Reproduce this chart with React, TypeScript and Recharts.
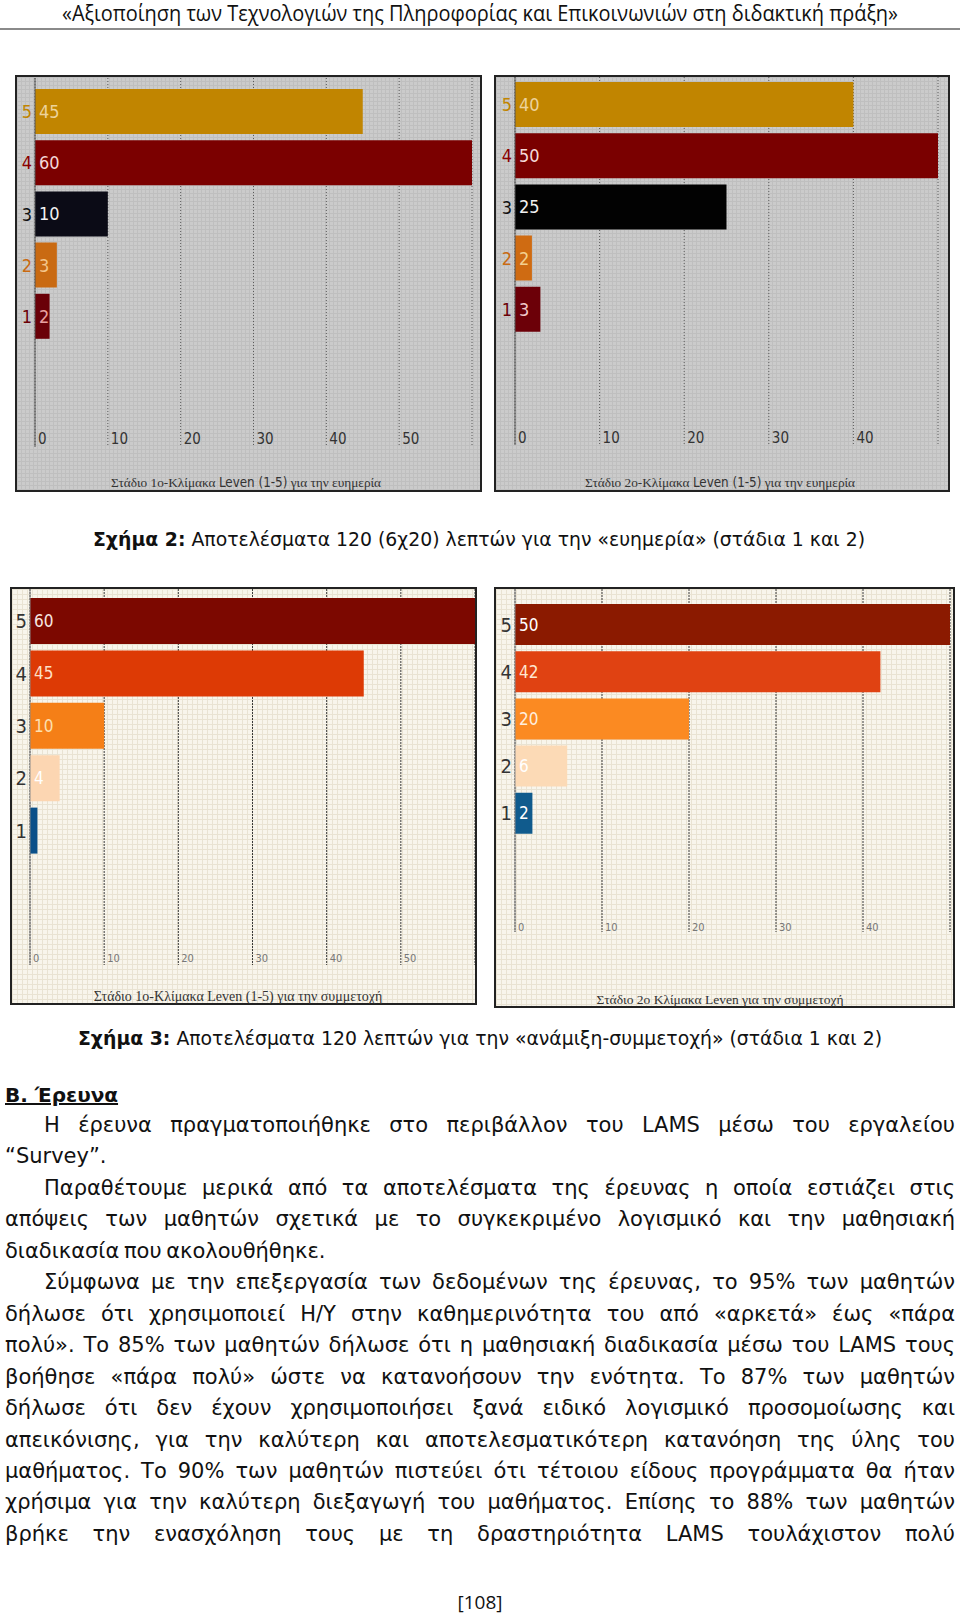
import React from "react";
import { BarChart, Bar, XAxis, YAxis, CartesianGrid, Cell, LabelList } from "recharts";

// Leven scale levels, top to bottom
const levels = ["5", "4", "3", "2", "1"];

// Σχήμα 2 - ευημερία
const wellbeingStage1 = [45, 60, 10, 3, 2];
const wellbeingStage2 = [40, 50, 25, 2, 3];
// Σχήμα 3 - ανάμιξη-συμμετοχή
const participationStage1 = [60, 45, 10, 4, 1];
const participationStage2 = [50, 42, 20, 6, 2];

const ticks50 = [0, 10, 20, 30, 40, 50];
const ticks40 = [0, 10, 20, 30, 40];

const captions = [
  ["Στάδιο 1ο-Κλίμακα ", "Leven (1-5)", " για την ευημερία"],
  ["Στάδιο 2ο-Κλίμακα ", "Leven (1-5)", " για την ευημερία"],
  ["Στάδιο 1ο-Κλίμακα Leven (1-5) για την συμμετοχή"],
  ["Στάδιο 2ο Κλίμακα Leven για την συμμετοχή"],
];

const bodyLines = [
  "Η έρευνα πραγματοποιήθηκε στο περιβάλλον του LAMS μέσω του εργαλείου",
  "“Survey”.",
  "Παραθέτουμε μερικά από τα αποτελέσματα της έρευνας η οποία εστιάζει στις",
  "απόψεις των μαθητών σχετικά με το συγκεκριμένο λογισμικό και την μαθησιακή",
  "διαδικασία που ακολουθήθηκε.",
  "Σύμφωνα με την επεξεργασία των δεδομένων της έρευνας, το 95% των μαθητών",
  "δήλωσε ότι χρησιμοποιεί Η/Υ στην καθημερινότητα του από «αρκετά» έως «πάρα",
  "πολύ». Το 85% των μαθητών δήλωσε ότι η μαθησιακή διαδικασία μέσω του LAMS τους",
  "βοήθησε «πάρα πολύ» ώστε να κατανοήσουν την ενότητα. Το 87% των μαθητών",
  "δήλωσε ότι δεν έχουν χρησιμοποιήσει ξανά ειδικό λογισμικό προσομοίωσης και",
  "απεικόνισης, για την καλύτερη και αποτελεσματικότερη κατανόηση της ύλης του",
  "μαθήματος. Το 90% των μαθητών πιστεύει ότι τέτοιου είδους προγράμματα θα ήταν",
  "χρήσιμα για την καλύτερη διεξαγωγή του μαθήματος. Επίσης το 88% των μαθητών",
  "βρήκε την ενασχόληση τους με τη δραστηριότητα LAMS τουλάχιστον πολύ",
];
const indented = [0, 2, 5];
const lastLines = [1, 4];

// colours
const warmBars = ["#c18500", "#7b0000", "#0b0b16", "#c96a12", "#6a0008"];
const warmBars2 = ["#c18500", "#7a0000", "#020202", "#cf6b12", "#6c0008"];
const warmTicks = ["#c18500", "#8a0000", "#111111", "#c96a12", "#6a0008"];
const warmLabels = ["#edd39c", "#f4d8d8", "#f2f2f2", "#f3c68c", "#e8a0a0"];
const warmLabels2 = ["#edd39c", "#f5dada", "#f0f0f0", "#f3d090", "#f0c8c8"];
const hotBars = ["#7c0800", "#dd3a05", "#f57f17", "#fcd6b2", "#0b5089"];
const hotBars2 = ["#8b1a00", "#e04212", "#fb8a22", "#fcdab6", "#105b8d"];
const hotLabels = ["#f8e6e0", "#fde0c8", "#fde0b0", "#ffffff", "transparent"];
const hotLabels2 = ["#ffffff", "#ffe6d0", "#ffeedd", "#ffffff", "#ffffff"];
const greyTicks = ["#333", "#333", "#333", "#333", "#333"];

const narrow = "'Liberation Sans Narrow', 'DejaVu Sans Condensed', 'Open Sans', sans-serif";
const serif = "'Liberation Serif', 'DejaVu Serif', serif";
const gothic = "'DejaVu Sans', 'Noto Sans', sans-serif";

type ChartProps = {
  values: number[];
  barColors: string[];
  labelColors: string[];
  catColors: string[];
  max: number;
  ticks: number[];
  width: number;
  height: number;
  yWidth: number;
  mRight: number;
  mTop: number;
  xHeight: number;
  padTop: number;
  padBottom: number;
  barSize: number;
  gridStroke: string;
  gridDash: string;
  axisStroke: string;
  tickFont: number;
  tickFill: string;
  tickLift: number;
  labelFont: number;
  catFont: number;
};

function HBars(p: ChartProps) {
  const data = levels.map((lv, i) => ({ level: lv, value: p.values[i] }));

  const CatTick = (props: any) => {
    const { x, y, payload } = props;
    return (
      <text x={x} y={y} textAnchor="end" dominantBaseline="central" fontFamily={narrow} fontSize={p.catFont} fill={p.catColors[payload.index]}>
        {payload.value}
      </text>
    );
  };

  const NumTick = (props: any) => {
    const { x, y, payload } = props;
    return (
      <text x={x + 3} y={y - p.tickLift} textAnchor="start" fontFamily={narrow} fontSize={p.tickFont} fill={p.tickFill}>
        {payload.value}
      </text>
    );
  };

  const ValueLabel = (props: any) => {
    const { x, y, height, value, index } = props;
    return (
      <text x={x + 4} y={y + height / 2} dominantBaseline="central" fontFamily={narrow} fontSize={p.labelFont} fill={p.labelColors[index]}>
        {value}
      </text>
    );
  };

  return (
    <BarChart
      width={p.width}
      height={p.height}
      data={data}
      layout="vertical"
      margin={{ top: p.mTop, right: p.mRight, bottom: 0, left: 0 }}
      barSize={p.barSize}
    >
      <CartesianGrid horizontal={false} stroke={p.gridStroke} strokeDasharray={p.gridDash} />
      <XAxis
        type="number"
        domain={[0, p.max]}
        ticks={p.ticks}
        height={p.xHeight}
        axisLine={false}
        tickLine={false}
        tickSize={0}
        tickMargin={0}
        tick={NumTick}
        allowDataOverflow
      />
      <YAxis
        type="category"
        dataKey="level"
        width={p.yWidth}
        padding={{ top: p.padTop, bottom: p.padBottom }}
        axisLine={{ stroke: p.axisStroke }}
        tickLine={false}
        tickSize={0}
        tickMargin={3}
        tick={CatTick}
      />
      <Bar dataKey="value" isAnimationActive={false}>
        {data.map((d, i) => (
          <Cell key={d.level} fill={p.barColors[i]} />
        ))}
        <LabelList dataKey="value" content={ValueLabel} />
      </Bar>
    </BarChart>
  );
}

const greyBg = {
  backgroundColor: "#cbcbcb",
  backgroundImage:
    "linear-gradient(#bfbfbf 1px, transparent 1px), linear-gradient(90deg, #bfbfbf 1px, transparent 1px)",
  backgroundSize: "4px 4px",
};
const creamBg = {
  backgroundColor: "#f8f5ec",
  backgroundImage:
    "linear-gradient(#e9e3d3 1px, transparent 1px), linear-gradient(90deg, #e9e3d3 1px, transparent 1px)",
  backgroundSize: "5px 5px",
};

function Frame({ left, top, w, h, bg, children }: any) {
  return (
    <div
      style={{
        position: "absolute",
        left,
        top,
        width: w,
        height: h,
        boxSizing: "border-box",
        border: "2px solid #222",
        overflow: "hidden",
        ...bg,
      }}
    >
      {children}
    </div>
  );
}

function Caption({ parts, cx, y, size }: any) {
  return (
    <svg width={460} height={24} style={{ position: "absolute", left: cx - 230, top: y - 17 }}>
      <text x={230} y={17} textAnchor="middle" fontFamily={serif} fontSize={size} fill="#333">
        {parts.length > 1 ? (
          <>
            <tspan>{parts[0]}</tspan>
            <tspan fontFamily={narrow}>{parts[1]}</tspan>
            <tspan>{parts[2]}</tspan>
          </>
        ) : (
          parts[0]
        )}
      </text>
    </svg>
  );
}

export default function App() {
  return (
    <div style={{ position: "absolute", left: 0, top: 0, width: 960, height: 1617, background: "#fff", overflow: "hidden" }}>
      {/* running header */}
      <svg width={960} height={34} style={{ position: "absolute", left: 0, top: 0 }}>
        <text x={480} y={21} textAnchor="middle" fontFamily="'Open Sans', sans-serif" fontSize={21} fill="#111" textLength={836} lengthAdjust="spacingAndGlyphs">
          «Αξιοποίηση των Τεχνολογιών της Πληροφορίας και Επικοινωνιών στη διδακτική πράξη»
        </text>
        <line x1={0} x2={960} y1={29} y2={29} stroke="#8a8a8a" strokeWidth={2} />
      </svg>

      {/* Σχήμα 2 */}
      <Frame left={15} top={75} w={467} h={417} bg={greyBg}>
        <HBars
          values={wellbeingStage1} barColors={warmBars} labelColors={warmLabels} catColors={warmTicks}
          max={60} ticks={ticks50} width={463} height={413} yWidth={18} mRight={8} mTop={1} xHeight={43}
          padTop={8} padBottom={105} barSize={45} gridStroke="#5a5a5a" gridDash="1 2" axisStroke="#555"
          tickFont={15} tickFill="#333" tickLift={3} labelFont={18} catFont={18}
        />
      </Frame>
      <Frame left={494} top={75} w={456} h={417} bg={greyBg}>
        <HBars
          values={wellbeingStage2} barColors={warmBars2} labelColors={warmLabels2} catColors={warmTicks}
          max={50} ticks={ticks40} width={452} height={413} yWidth={19} mRight={10} mTop={0} xHeight={45}
          padTop={2} padBottom={110} barSize={45} gridStroke="#5a5a5a" gridDash="1 2" axisStroke="#555"
          tickFont={15} tickFill="#333" tickLift={2} labelFont={18} catFont={18}
        />
      </Frame>
      <Caption parts={captions[0]} cx={246} y={487} size={13.3} />
      <Caption parts={captions[1]} cx={720} y={487} size={13.3} />

      <svg width={960} height={30} style={{ position: "absolute", left: 0, top: 526 }}>
        <text x={479} y={20} textAnchor="middle" fontFamily={gothic} fontSize={19} fill="#111" textLength={772} lengthAdjust="spacingAndGlyphs">
          <tspan fontWeight="bold">Σχήμα 2:</tspan>
          <tspan>{"  Αποτελέσματα 120 (6χ20) λεπτών για την «ευημερία» (στάδια 1 και 2)"}</tspan>
        </text>
      </svg>

      {/* Σχήμα 3 */}
      <Frame left={10} top={587} w={467} h={418} bg={creamBg}>
        <HBars
          values={participationStage1} barColors={hotBars} labelColors={hotLabels} catColors={greyTicks}
          max={60} ticks={ticks50} width={463} height={414} yWidth={18} mRight={0} mTop={0} xHeight={38}
          padTop={6} padBottom={108} barSize={46} gridStroke="#3a3a3a" gridDash="2 1" axisStroke="#8a8a8a"
          tickFont={11} tickFill="#777" tickLift={3} labelFont={17} catFont={20}
        />
      </Frame>
      <Frame left={494} top={587} w={461} h={421} bg={creamBg}>
        <HBars
          values={participationStage2} barColors={hotBars2} labelColors={hotLabels2} catColors={greyTicks}
          max={50} ticks={ticks40} width={457} height={417} yWidth={19} mRight={3} mTop={0} xHeight={74}
          padTop={12} padBottom={95} barSize={41} gridStroke="#3a3a3a" gridDash="2 1" axisStroke="#8a8a8a"
          tickFont={11} tickFill="#777" tickLift={1} labelFont={17} catFont={20}
        />
      </Frame>
      <Caption parts={captions[2]} cx={238} y={1001} size={14} />
      <Caption parts={captions[3]} cx={720} y={1004} size={13.5} />

      <svg width={960} height={30} style={{ position: "absolute", left: 0, top: 1024 }}>
        <text x={480} y={21} textAnchor="middle" fontFamily={gothic} fontSize={19} fill="#111" textLength={804} lengthAdjust="spacingAndGlyphs">
          <tspan fontWeight="bold">Σχήμα 3:</tspan>
          <tspan>{" Αποτελέσματα 120 λεπτών για την «ανάμιξη-συμμετοχή» (στάδια 1 και 2)"}</tspan>
        </text>
      </svg>

      {/* section text */}
      <div style={{ position: "absolute", left: 5, top: 1080, fontFamily: gothic, fontSize: 20, fontWeight: "bold", textDecoration: "underline", color: "#111", lineHeight: "30px" }}>
        Β. Έρευνα
      </div>
      <div style={{ position: "absolute", left: 5, top: 1110, width: 950, fontFamily: gothic, fontSize: 21, wordSpacing: -2, color: "#111", lineHeight: "31.45px" }}>
        {bodyLines.map((t, i) => (
          <div
            key={i}
            style={{
              paddingLeft: indented.includes(i) ? 39 : 0,
              textAlign: "justify",
              textAlignLast: lastLines.includes(i) ? "left" : "justify",
              whiteSpace: "nowrap",
            }}
          >
            {t}
          </div>
        ))}
      </div>

      <div style={{ position: "absolute", left: 0, top: 1589, width: 960, textAlign: "center", fontFamily: "'Open Sans', sans-serif", fontSize: 19, color: "#111" }}>
        [108]
      </div>
    </div>
  );
}
